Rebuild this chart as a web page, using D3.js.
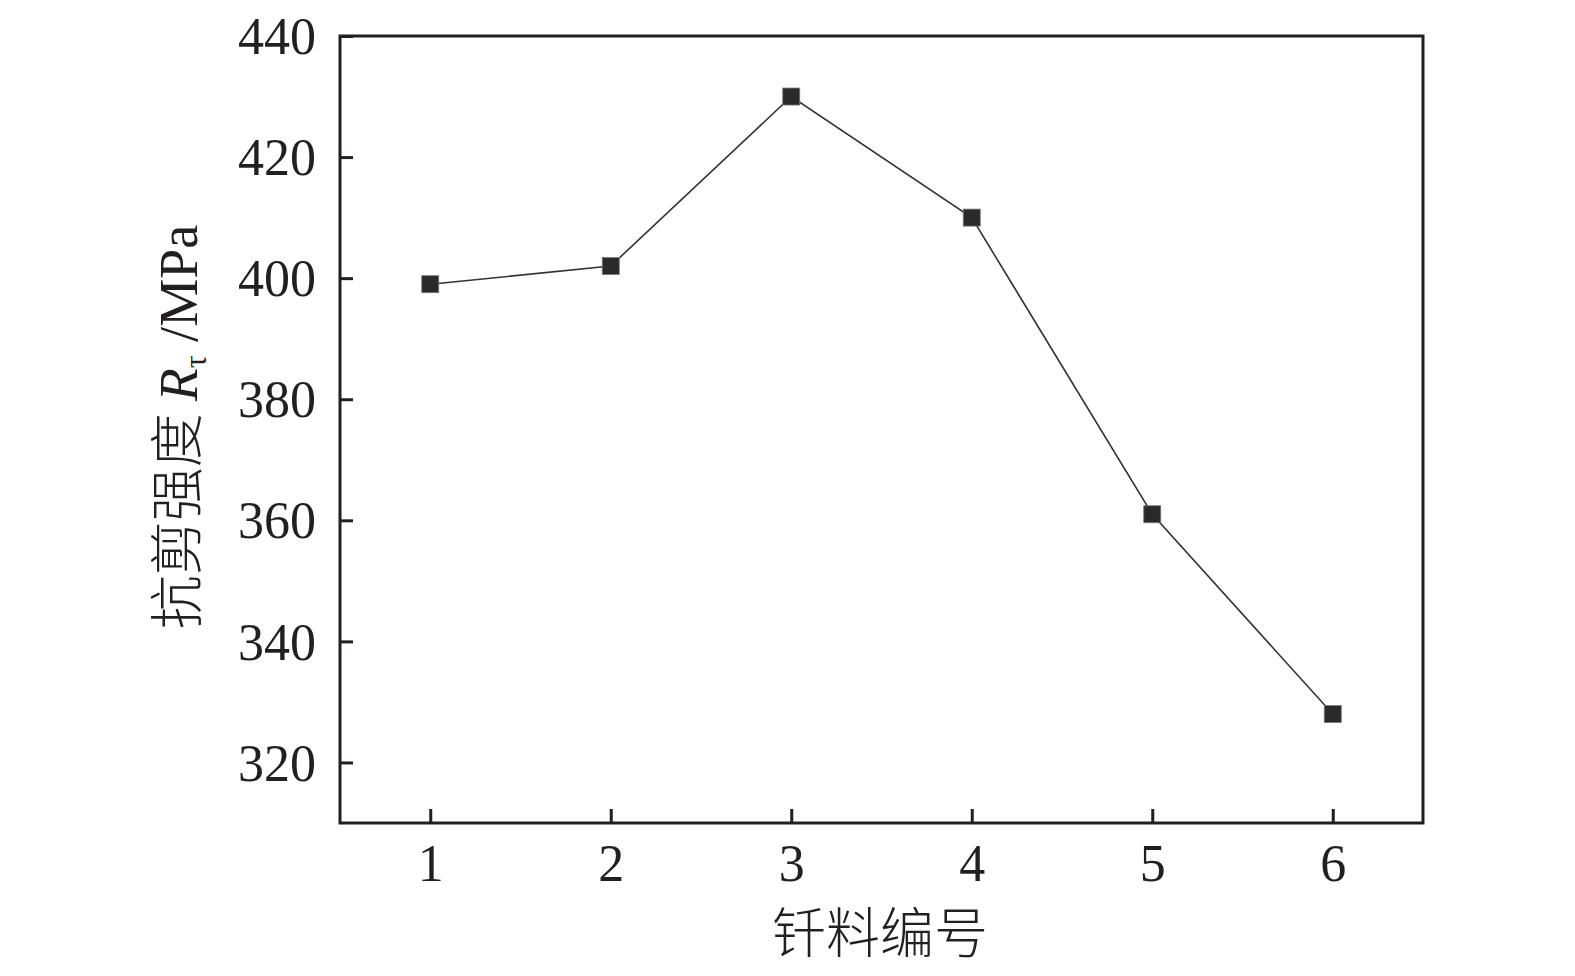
<!DOCTYPE html>
<html><head><meta charset="utf-8">
<script src="https://cdn.jsdelivr.net/npm/d3@7"></script>
<style>body{margin:0;background:#fff}</style>
</head><body>
<script>
const categories = [1, 2, 3, 4, 5, 6];
const strength = [399, 402, 430, 410, 361, 328];
const yTicks = [320, 340, 360, 380, 400, 420, 440];

const W = 1575, H = 976;
const m = {left: 340, right: 1423, top: 36, bottom: 823};
const svg = d3.select("body").append("svg").attr("width", W).attr("height", H);

const x = d3.scaleLinear().domain([0.5, 6.5]).range([m.left, m.right]);
const y = d3.scaleLinear().domain([310, 440]).range([m.bottom, m.top]);
const serif = "'Liberation Serif','Times New Roman',serif";
const col = "#231f20";

svg.append("path").datum(categories.map((c,i)=>[c, strength[i]]))
  .attr("d", d3.line().x(d=>x(d[0])).y(d=>y(d[1])))
  .attr("fill","none").attr("stroke","#333").attr("stroke-width",1.6);

const s = 17;
svg.selectAll("rect.pt").data(categories).enter().append("rect")
  .attr("x", (d)=>x(d)-s/2).attr("y",(d,i)=>y(strength[i])-s/2)
  .attr("width",s).attr("height",s).attr("fill","#2a2a2a").attr("stroke","#777").attr("stroke-width",0.8);

const xAxis = svg.append("g").attr("transform",`translate(0,${m.bottom})`)
  .call(d3.axisBottom(x).tickValues(categories).tickSizeInner(-14).tickSizeOuter(0).tickPadding(22).tickFormat(d3.format("d")));
const yAxis = svg.append("g").attr("transform",`translate(${m.left},0)`)
  .call(d3.axisLeft(y).tickValues(yTicks).tickSizeInner(-13).tickSizeOuter(0).tickPadding(24).tickFormat(d3.format("d")));
[xAxis, yAxis].forEach(a=>{
  a.select(".domain").remove();
  a.selectAll("line").attr("stroke",col).attr("stroke-width",3);
  a.selectAll("text").attr("fill",col).attr("font-family",serif).attr("font-size",52);
});
yAxis.selectAll("text").attr("dy","0.34em");
xAxis.selectAll("text").attr("dy","0.7em");

svg.append("rect").attr("x",m.left).attr("y",m.top).attr("width",m.right-m.left).attr("height",m.bottom-m.top)
  .attr("fill","none").attr("stroke",col).attr("stroke-width",3);

svg.append("text").attr("x",880).attr("y",953).attr("text-anchor","middle")
  .attr("font-family","'Noto Sans CJK SC',sans-serif").attr("font-size",54).attr("font-weight",300).attr("fill",col)
  .text("钎料编号");

const yt = svg.append("text").attr("transform","translate(197,427) rotate(-90)").attr("text-anchor","middle")
  .attr("fill",col).attr("font-size",54);
yt.append("tspan").attr("font-family","'Noto Sans CJK SC',sans-serif").attr("font-weight",300).text("抗剪强度 ");
yt.append("tspan").attr("font-family",serif).attr("font-style","italic").text("R");
yt.append("tspan").attr("font-family",serif).attr("font-size",32).attr("dy",9).text("τ");
yt.append("tspan").attr("font-family",serif).attr("dy",-9).text(" /MPa");
</script>
</body></html>
